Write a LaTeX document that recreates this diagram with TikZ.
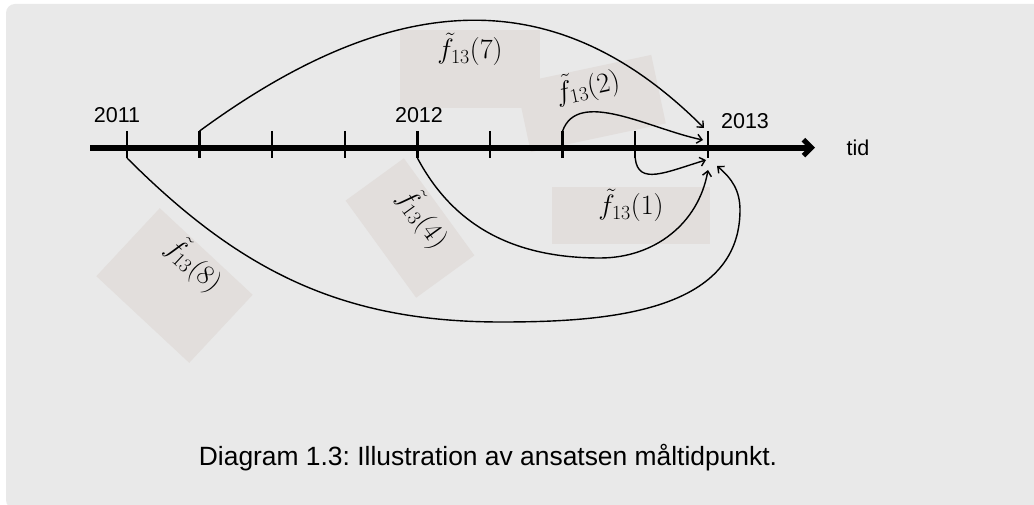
\documentclass[tikz,border=0pt]{standalone}
\usepackage{fix-cm}
\usepackage[no-math]{fontspec}
\setmainfont{Liberation Sans}
\usepackage{amsmath}
\usetikzlibrary{arrows.meta}
\definecolor{panelgray}{HTML}{E9E9E9}
\definecolor{boxgray}{HTML}{E2DEDC}
\newcommand{\ftil}[1]{$\tilde{f}_{\text{\fontsize{20}{20}\selectfont$13$}}(#1)$}

\begin{document}
\begin{tikzpicture}[x=1pt,y=1pt,
    lbox/.style={fill=boxgray,inner sep=0pt,font=\fontsize{28}{32}\selectfont},
    yr/.style={inner sep=0pt,font=\fontsize{21.5}{25}\selectfont},
    arc/.style={line width=1.4pt,-{Straight Barb[length=5pt,width=9pt]}}]
  \useasboundingbox (0,0) rectangle (1034,504);
  \clip (0,0) rectangle (1034,504);
  \fill[white] (0,0) rectangle (1034,504);
  \fill[panelgray,rounded corners=9pt] (6,-5) rectangle (1050,500);

  % shaded labels
  \node[lbox,minimum width=140pt,text height=29pt,text depth=49pt] (f7) at (470,435) {\ftil{7}};
  \node[lbox,rotate=12,minimum width=138pt,text height=27pt,text depth=43pt] (f2) at (591,400.5) {\ftil{2}};
  \node[lbox,minimum width=158pt,text height=28pt,text depth=29pt] (f1) at (631,288.5) {\ftil{1}};
  \node[lbox,rotate=-54,minimum width=120pt,text height=29pt,text depth=43pt] (f4) at (410,276) {\ftil{4}};
  \node[lbox,rotate=-43,minimum width=127pt,text height=27pt,text depth=66pt] (f8) at (174.5,218.5) {\ftil{8}};

  % time axis
  \draw[line width=6pt,-{Straight Barb[length=8pt,width=16pt,line width=5pt]}] (90,356.3) -- (815,356.3);
  \foreach \i in {0,...,8} {
    \coordinate (u\i) at (127+72.6*\i,373);
    \coordinate (d\i) at (127+72.6*\i,346);
    \draw[line width=2.5pt] (u\i) -- (d\i);
  }
  \node[yr] (y11) at (117,389) {2011};
  \node[yr] (y12) at (419,389) {2012};
  \node[yr] (y13) at (745,382.5) {2013};
  \node[yr] (tid) at (858,356.5) {tid};

  % arrow tips at 2013
  \coordinate (e7) at (704,376);
  \coordinate (e2) at (703,364);
  \coordinate (e1) at (706,344);
  \coordinate (e4) at (708,334);
  \coordinate (e8) at (717,338);

  \draw[arc] (u1) .. controls (400,520) and (560,520) .. (e7);
  \draw[arc] (u6) .. controls (578,416) and (650,375) .. (e2);
  \draw[arc] (d7) .. controls (638,318) and (666,332) .. (e1);
  \draw[arc] (d4) to[out=-62,in=180] (600,246) to[out=0,in=-100] (e4);
  \draw[arc] (d0) to[out=-45,in=180] (501,182) to[out=0,in=-90] (740,294) to[out=90,in=-40] (e8);

  \node[font=\fontsize{26.4}{30}\selectfont\frenchspacing] (cap) at (488,46) {Diagram 1.3: Illustration av ansatsen måltidpunkt.};
\end{tikzpicture}
\end{document}
